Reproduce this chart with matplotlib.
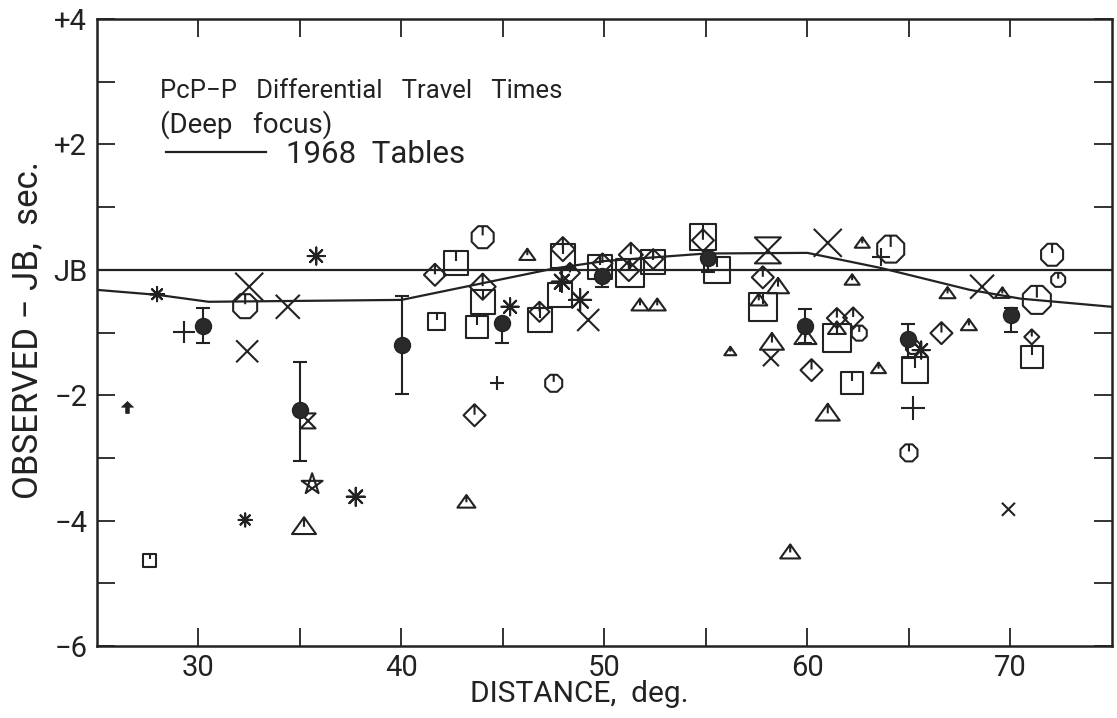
import numpy as np
import matplotlib.pyplot as plt
from matplotlib.path import Path

plt.rcParams['font.family'] = ['Roboto', 'DejaVu Sans']

# 1968 Tables (PcP-P relative to JB)
table_dist = [25, 28, 30.5, 40, 47.5, 50, 55, 60, 63.6, 68, 70.5, 75]
table_resid = [-0.32, -0.40, -0.51, -0.48, 0.02, 0.14, 0.26, 0.27, 0.03, -0.32, -0.46, -0.59]

# averaged values with error bars
mean_dist = [30.2, 35.0, 40.05, 44.95, 49.9, 55.1, 59.9, 64.95, 70.05]
mean_resid = [-0.90, -2.24, -1.20, -0.85, -0.10, 0.19, -0.90, -1.10, -0.72]
mean_low = [-1.17, -3.05, -1.98, -1.17, -0.27, -0.03, -1.17, -1.40, -0.99]
mean_high = [-0.61, -1.47, -0.42, -0.85, -0.10, 0.19, -0.63, -0.86, -0.61]

# individual stations, one list pair per symbol
circ_dist = [32.3, 44.0, 47.5, 64.1, 71.3, 72.05, 72.35, 62.55, 65.0, 65.2]
circ_resid = [-0.58, 0.52, -1.81, 0.33, -0.48, 0.24, -0.16, -1.01, -2.92, -1.23]

sq_dist = [27.6, 42.7, 44.0, 41.75, 43.7, 46.8, 47.8, 47.95, 49.8, 51.25, 52.4,
           54.85, 55.55, 57.8, 61.45, 62.2, 65.3, 71.05]
sq_resid = [-4.64, 0.11, -0.51, -0.82, -0.91, -0.80, -0.40, 0.22, 0.04, -0.05, 0.12,
            0.52, 0.0, -0.59, -1.09, -1.81, -1.60, -1.39]

dia_dist = [41.65, 44.0, 43.6, 46.8, 47.95, 48.3, 49.9, 51.3, 51.2, 52.4, 54.85,
            57.8, 60.2, 61.45, 62.25, 66.6, 71.05]
dia_resid = [-0.08, -0.27, -2.32, -0.67, 0.33, -0.05, 0.10, 0.24, -0.02, 0.17, 0.47,
             -0.12, -1.60, -0.77, -0.76, -1.01, -1.07]

tri_dist = [35.2, 43.2, 46.2, 51.75, 52.6, 57.6, 58.55, 62.7, 62.2, 66.9, 69.6,
            59.9, 58.25, 56.2, 61.45, 63.5, 67.95, 61.0, 59.15]
tri_resid = [-4.09, -3.70, 0.24, -0.56, -0.56, -0.48, -0.26, 0.43, -0.16, -0.37, -0.37,
             -1.07, -1.15, -1.30, -0.93, -1.57, -0.88, -2.28, -4.50]

cross_dist = [32.5, 32.4, 34.4, 49.2, 61.0, 68.6, 58.2, 69.9]
cross_resid = [-0.27, -1.30, -0.59, -0.80, 0.43, -0.27, -1.41, -3.82]

plus_dist = [29.3, 44.7, 63.6, 65.2]
plus_resid = [-0.99, -1.81, 0.21, -2.20]

ast_dist = [27.96, 32.3, 35.8, 37.75, 45.35, 47.9, 48.8, 65.6]
ast_resid = [-0.39, -3.99, 0.22, -3.62, -0.59, -0.19, -0.48, -1.28]

hour_dist = [35.4, 58.05]
hour_resid = [-2.41, 0.31]

star_dist = [35.6]
star_resid = [-3.42]

arrow_dist = [26.5]
arrow_resid = [-2.19]

# marker sizes (pixels on the original figure)
circ_px = [24, 22, 17, 27, 28, 22, 14, 15, 17, 14]
sq_px = [13, 24, 24, 17, 22, 24, 24, 24, 24, 28, 24, 26, 26, 28, 28, 22, 26, 22]
dia_px = [22, 26, 22, 20, 24, 20, 20, 24, 20, 20, 22, 22, 22, 20, 20, 22, 15]
tri_px = [24, 18, 16, 17, 17, 17, 22, 15, 15, 16, 15, 22, 24, 12, 18, 15, 16, 24, 20]
cross_px = [28, 22, 24, 22, 28, 24, 16, 13]
plus_px = [22, 14, 18, 24]
ast_px = [14, 13, 17, 18, 17, 20, 22, 17]
hour_px = [15, 26]
star_px = [22]
arrow_px = [12]

ink = '#222222'
PX = 100 / 72


def outline_with_tick(verts, tick_top, tick_bottom):
    shape = Path(list(verts) + [verts[0]],
                 [Path.MOVETO] + [Path.LINETO] * (len(verts) - 1) + [Path.CLOSEPOLY])
    tick = Path([(0, tick_top), (0, tick_bottom)], [Path.MOVETO, Path.LINETO])
    return Path.make_compound_path(shape, tick)


ang = np.deg2rad(22.5 + 45 * np.arange(8))
octa = list(zip(np.cos(ang), np.sin(ang)))
circ_mark = outline_with_tick(octa, np.sin(np.deg2rad(67.5)), 0.15)
sq_mark = outline_with_tick([(-1, -1), (1, -1), (1, 1), (-1, 1)], 1, 0.2)
dia_mark = outline_with_tick([(0, 1), (1, 0), (0, -1), (-1, 0)], 1, 0.05)
tri_mark = outline_with_tick([(-1, -0.65), (1, -0.65), (0, 0.75)], 0.75, -0.05)
hour_mark = Path([(-1, 1), (1, 1), (-1, -1), (1, -1), (-1, 1)],
                 [Path.MOVETO, Path.LINETO, Path.LINETO, Path.LINETO, Path.CLOSEPOLY])
sang = np.deg2rad(90 + 144 * np.arange(5))
star_mark = Path(list(zip(np.cos(sang), np.sin(sang))) + [(0, 1)],
                 [Path.MOVETO] + [Path.LINETO] * 4 + [Path.CLOSEPOLY])
arrow_mark = Path([(0, 1), (1, 0.05), (0.3, 0.05), (0.3, -1), (-0.3, -1), (-0.3, 0.05),
                   (-1, 0.05), (0, 1)],
                  [Path.MOVETO] + [Path.LINETO] * 6 + [Path.CLOSEPOLY])

fig = plt.figure(figsize=(11.17, 7.18), dpi=100)
ax = fig.add_axes([0.0868, 0.1003, 0.9087, 0.8732])

ax.axhline(0, color=ink, lw=1.6, zorder=1)
ax.plot(table_dist, table_resid, color=ink, lw=1.6, label='1968  Tables', zorder=1)


def sizes(px):
    return (np.array(px) / PX) ** 2


open_sets = [
    (circ_dist, circ_resid, circ_px, circ_mark),
    (sq_dist, sq_resid, sq_px, sq_mark),
    (dia_dist, dia_resid, dia_px, dia_mark),
    (tri_dist, tri_resid, tri_px, tri_mark),
    (cross_dist, cross_resid, cross_px, 'x'),
    (plus_dist, plus_resid, plus_px, '+'),
    (ast_dist, ast_resid, ast_px, (8, 2, 0)),
    (hour_dist, hour_resid, hour_px, hour_mark),
    (star_dist, star_resid, star_px, star_mark),
]
for xs, ys, px, mk in open_sets:
    if isinstance(mk, (str, tuple)):
        ax.scatter(xs, ys, s=sizes(px), marker=mk, color=ink, linewidths=1.5, zorder=3)
    else:
        ax.scatter(xs, ys, s=sizes(px), marker=mk, facecolors='none',
                   edgecolors=ink, linewidths=1.5, zorder=3)

ax.scatter(arrow_dist, arrow_resid, s=sizes(arrow_px), marker=arrow_mark,
           color=ink, linewidths=0.5, zorder=3)

m = np.array(mean_resid)
yerr = [m - np.array(mean_low), np.array(mean_high) - m]
ax.errorbar(mean_dist, mean_resid, yerr=yerr, fmt='o', ms=11.5, color=ink,
            mfc='#2a2a2a', mec=ink, elinewidth=1.5, capsize=5, capthick=1.5, zorder=4)

ax.set_xlim(25, 75)
ax.set_ylim(-6, 4)
ax.set_xticks(np.arange(30, 71, 5))
ax.set_xticklabels(['30', '', '40', '', '50', '', '60', '', '70'])
ax.set_yticks(np.arange(-6, 5, 1))
ax.set_yticklabels(['−6', '', '−4', '', '−2', '', 'JB', '', '+2', '', '+4'])
ax.tick_params(axis='both', direction='in', length=13, width=1.3, labelsize=21,
               top=True, right=True, color=ink, labelcolor=ink)
ax.tick_params(axis='x', pad=6)
ax.tick_params(axis='y', pad=7)
for sp in ax.spines.values():
    sp.set_linewidth(1.8)
    sp.set_color(ink)

ax.text(0.062, 0.886, 'PcP−P   Differential   Travel   Times', transform=ax.transAxes,
        fontsize=18.5, color=ink, va='center', ha='left')
ax.text(0.062, 0.832, '(Deep   focus)', transform=ax.transAxes,
        fontsize=20, color=ink, va='center', ha='left')
ax.legend(loc='center left', bbox_to_anchor=(0.040, 0.784), frameon=False,
          fontsize=22.5, handlelength=3.2, handletextpad=0.65, labelcolor=ink)

fig.text(0.025, 0.540, 'OBSERVED − JB,  sec.', rotation=90, fontsize=25,
         color=ink, ha='center', va='center')
fig.text(0.519, 0.034, 'DISTANCE,  deg.', fontsize=21.5, color=ink,
         ha='center', va='center')

fig.savefig('out.png', dpi=100, facecolor='white')
